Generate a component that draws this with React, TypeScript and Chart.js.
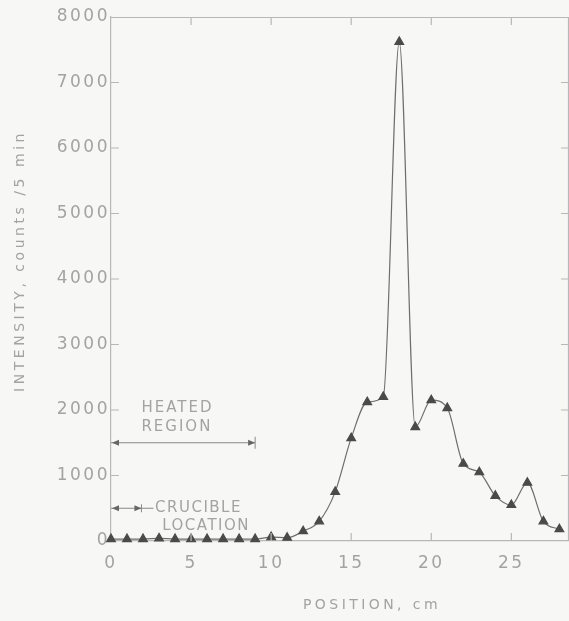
import React, { useEffect, useRef } from "react";
import { Chart, registerables } from "chart.js";

Chart.register(...registerables);

const positions = [0, 1, 2, 3, 4, 5, 6, 7, 8, 9, 10, 11, 12, 13, 14, 15, 16, 17, 18, 19, 20, 21, 22, 23, 24, 25, 26, 27, 28];
const intensity = [30, 30, 30, 40, 30, 30, 30, 30, 30, 30, 60, 50, 150, 300, 750, 1570, 2120, 2200, 7620, 1740, 2150, 2030, 1180, 1050, 690, 550, 890, 300, 180];

const xTicks = [0, 5, 10, 15, 20, 25];
const yTicks = [0, 1000, 2000, 3000, 4000, 5000, 6000, 7000, 8000];

const heatedRange = [0, 9];
const heatedLevel = 1500;
const heatedLabel = ["HEATED", "REGION"];
const crucibleRange = [0, 1.9];
const crucibleLevel = 500;
const crucibleLabel = ["CRUCIBLE", "LOCATION"];

const xTitle = "POSITION, cm";
const yTitle = "INTENSITY, counts /5 min";

const TEXT = "#a3a3a3";
const AXIS = "#b8b8b8";
const FONT = "'DejaVu Sans', sans-serif";

export default function App() {
  const ref = useRef<HTMLCanvasElement | null>(null);

  useEffect(() => {
    if (!ref.current) return;

    const fitText = (ctx: any, text: string, cx: number, cy: number, width: number) => {
      ctx.letterSpacing = "0px";
      const w = ctx.measureText(text).width;
      const sp = (width - w) / text.length;
      ctx.letterSpacing = `${sp}px`;
      ctx.textAlign = "left";
      ctx.fillText(text, cx - width / 2, cy);
    };

    const decor = {
      id: "decor",
      beforeDraw(chart: any) {
        const ctx = chart.ctx;
        ctx.save();
        ctx.fillStyle = "#f7f7f6";
        ctx.fillRect(0, 0, chart.width, chart.height);
        ctx.restore();
        (ctx as any).letterSpacing = "2.5px";
      },
      afterDraw(chart: any) {
        const { ctx, chartArea: ca } = chart;
        const x = chart.scales.x;
        const y = chart.scales.y;
        ctx.save();
        (ctx as any).letterSpacing = "0px";
        // frame
        ctx.strokeStyle = AXIS;
        ctx.lineWidth = 1.2;
        ctx.beginPath();
        ctx.moveTo(ca.left, ca.top + 0.5);
        ctx.lineTo(ca.right, ca.top + 0.5);
        ctx.moveTo(ca.right - 0.5, ca.top);
        ctx.lineTo(ca.right - 0.5, ca.bottom);
        ctx.stroke();
        // inward ticks
        ctx.beginPath();
        yTicks.forEach((v) => {
          const py = y.getPixelForValue(v);
          if (v > 0 && v < 8000) {
            ctx.moveTo(ca.left, py);
            ctx.lineTo(ca.left + 8, py);
            ctx.moveTo(ca.right, py);
            ctx.lineTo(ca.right - 8, py);
          }
        });
        xTicks.forEach((v) => {
          const px = x.getPixelForValue(v);
          if (v > 0) {
            ctx.moveTo(px, ca.top);
            ctx.lineTo(px, ca.top + 8);
            ctx.moveTo(px, ca.bottom);
            ctx.lineTo(px, ca.bottom - 8);
          }
        });
        ctx.stroke();

        // annotations
        const arrow = (px: number, py: number, dir: number) => {
          ctx.beginPath();
          ctx.moveTo(px, py);
          ctx.lineTo(px - dir * 7, py - 3);
          ctx.lineTo(px - dir * 7, py + 3);
          ctx.closePath();
          ctx.fill();
        };
        ctx.strokeStyle = "#888";
        ctx.fillStyle = "#666";
        ctx.lineWidth = 1;
        // heated
        const hy = y.getPixelForValue(heatedLevel);
        const hx0 = x.getPixelForValue(heatedRange[0]);
        const hx1 = x.getPixelForValue(heatedRange[1]);
        ctx.beginPath();
        ctx.moveTo(hx0, hy);
        ctx.lineTo(hx1, hy);
        ctx.moveTo(hx1, hy - 6);
        ctx.lineTo(hx1, hy + 6);
        ctx.stroke();
        arrow(hx0 + 1, hy, -1);
        arrow(hx1, hy, 1);
        // crucible
        const cy = y.getPixelForValue(crucibleLevel);
        const cx0 = x.getPixelForValue(crucibleRange[0]);
        const cx1 = x.getPixelForValue(crucibleRange[1]);
        ctx.beginPath();
        ctx.moveTo(cx0, cy);
        ctx.lineTo(cx1 + 12, cy);
        ctx.moveTo(cx1, cy - 4);
        ctx.lineTo(cx1, cy + 4);
        ctx.stroke();
        arrow(cx0 + 1, cy, -1);
        arrow(cx1, cy, 1);

        ctx.fillStyle = TEXT;
        (ctx as any).letterSpacing = "2px";
        ctx.font = `15px ${FONT}`;
        ctx.textAlign = "left";
        ctx.textBaseline = "middle";
        ctx.fillText(heatedLabel[0], x.getPixelForValue(1.9), y.getPixelForValue(2030));
        ctx.fillText(heatedLabel[1], x.getPixelForValue(1.9), y.getPixelForValue(1740));
        (ctx as any).letterSpacing = "1.5px";
        ctx.fillText(crucibleLabel[0], x.getPixelForValue(2.75), y.getPixelForValue(500));
        ctx.fillText(crucibleLabel[1], x.getPixelForValue(3.2), y.getPixelForValue(230));

        // axis titles
        ctx.font = `14px ${FONT}`;
        fitText(ctx, xTitle, 372, 605, 138);
        ctx.translate(20, 261);
        ctx.rotate(-Math.PI / 2);
        fitText(ctx, yTitle, 0, 0, 262);
        ctx.restore();
      },
    };

    const chart = new Chart(ref.current, {
      type: "line",
      data: {
        labels: positions,
        datasets: [
          {
            data: positions.map((p, i) => ({ x: p, y: intensity[i] })),
            borderColor: "#6e6e6e",
            borderWidth: 1.2,
            pointStyle: "triangle",
            pointRadius: 5,
            pointBackgroundColor: "#4a4a4a",
            pointBorderColor: "#4a4a4a",
            cubicInterpolationMode: "monotone",
            clip: false,
          },
        ],
      },
      options: {
        animation: false,
        responsive: false,
        maintainAspectRatio: false,
        layout: { autoPadding: false, padding: { top: 17, right: 0, left: 0, bottom: 0 } },
        plugins: { legend: { display: false }, tooltip: { enabled: false } },
        scales: {
          x: {
            type: "linear",
            min: 0,
            max: 28.6,
            afterFit: (s: any) => {
              s.height = 80;
            },
            afterBuildTicks: (s: any) => {
              s.ticks = xTicks.map((v) => ({ value: v }));
            },
            ticks: {
              color: TEXT,
              font: { family: FONT, size: 17 },
              padding: 12,
              maxRotation: 0,
              includeBounds: false,
              callback: (v: any) => String(v),
            },
            grid: { display: false, drawTicks: false },
            border: { display: true, color: AXIS, width: 1.2 },
          },
          y: {
            min: 0,
            max: 8000,
            afterFit: (s: any) => {
              s.width = 111;
            },
            afterBuildTicks: (s: any) => {
              s.ticks = yTicks.map((v) => ({ value: v }));
            },
            ticks: {
              color: TEXT,
              font: { family: FONT, size: 17 },
              padding: 1,
              callback: (v: any) => String(v),
            },
            grid: { display: false, drawTicks: false },
            border: { display: true, color: AXIS, width: 1.2 },
          },
        },
      },
      plugins: [decor],
    } as any);

    return () => chart.destroy();
  }, []);

  return (
    <div style={{ position: "fixed", left: 0, top: 0, width: 569, height: 621, background: "#f7f7f6" }}>
      <canvas ref={ref} width={569} height={621} style={{ display: "block" }} />
    </div>
  );
}
